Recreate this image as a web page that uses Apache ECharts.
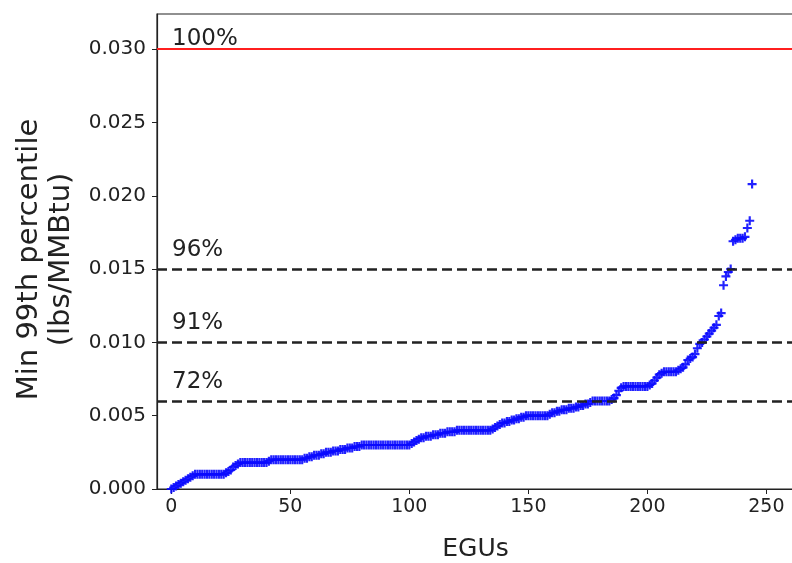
<!DOCTYPE html>
<html>
<head>
<meta charset="utf-8">
<title>Min 99th percentile by EGU</title>
<script src="https://cdn.jsdelivr.net/npm/echarts@6/dist/echarts.min.js"></script>
<style>
  html, body { margin: 0; padding: 0; background: #fff; }
  #chart { width: 792px; height: 563px; }
</style>
</head>
<body>
<div id="chart"></div>
<script>
// Sorted minimum 99th-percentile values per EGU (lbs/MMBtu)
const egu_values = [
  0.0000, 0.0001, 0.0002, 0.0003, 0.0004, 0.0005, 0.0006, 0.0007, 0.0008, 0.0009,
  0.0010, 0.0010, 0.0010, 0.0010, 0.0010, 0.0010, 0.0010, 0.0010, 0.0010, 0.0010,
  0.0010, 0.0010, 0.0010, 0.0011, 0.0012, 0.0013, 0.0015, 0.0016, 0.0017, 0.0018,
  0.0018, 0.0018, 0.0018, 0.0018, 0.0018, 0.0018, 0.0018, 0.0018, 0.0018, 0.0018,
  0.0018, 0.0019, 0.0020, 0.0020, 0.0020, 0.0020, 0.0020, 0.0020, 0.0020, 0.0020,
  0.0020, 0.0020, 0.0020, 0.0020, 0.0020, 0.0020, 0.0021, 0.0021, 0.0022, 0.0022,
  0.0023, 0.0023, 0.0023, 0.0024, 0.0024, 0.0025, 0.0025, 0.0025, 0.0026, 0.0026,
  0.0026, 0.0027, 0.0027, 0.0027, 0.0028, 0.0028, 0.0028, 0.0029, 0.0029, 0.0029,
  0.0030, 0.0030, 0.0030, 0.0030, 0.0030, 0.0030, 0.0030, 0.0030, 0.0030, 0.0030,
  0.0030, 0.0030, 0.0030, 0.0030, 0.0030, 0.0030, 0.0030, 0.0030, 0.0030, 0.0030,
  0.0030, 0.0031, 0.0032, 0.0033, 0.0034, 0.0035, 0.0035, 0.0036, 0.0036, 0.0036,
  0.0037, 0.0037, 0.0037, 0.0038, 0.0038, 0.0038, 0.0039, 0.0039, 0.0039, 0.0039,
  0.0040, 0.0040, 0.0040, 0.0040, 0.0040, 0.0040, 0.0040, 0.0040, 0.0040, 0.0040,
  0.0040, 0.0040, 0.0040, 0.0040, 0.0040, 0.0041, 0.0042, 0.0043, 0.0044, 0.0045,
  0.0045, 0.0046, 0.0046, 0.0047, 0.0047, 0.0048, 0.0048, 0.0049, 0.0049, 0.0050,
  0.0050, 0.0050, 0.0050, 0.0050, 0.0050, 0.0050, 0.0050, 0.0050, 0.0050, 0.0051,
  0.0052, 0.0052, 0.0053, 0.0053, 0.0054, 0.0054, 0.0054, 0.0055, 0.0055, 0.0055,
  0.0056, 0.0056, 0.0057, 0.0057, 0.0058, 0.0058, 0.0059, 0.0060, 0.0060, 0.0060,
  0.0060, 0.0060, 0.0060, 0.0060, 0.0060, 0.0061, 0.0062, 0.0064, 0.0067, 0.0069,
  0.0070, 0.0070, 0.0070, 0.0070, 0.0070, 0.0070, 0.0070, 0.0070, 0.0070, 0.0070,
  0.0070, 0.0071, 0.0072, 0.0074, 0.0076, 0.0078, 0.0079, 0.0080, 0.0080, 0.0080,
  0.0080, 0.0080, 0.0080, 0.0081, 0.0082, 0.0083, 0.0085, 0.0088, 0.0089, 0.0090,
  0.0092, 0.0096, 0.0099, 0.0100, 0.0102, 0.0104, 0.0106, 0.0108, 0.0110, 0.0112,
  0.0118, 0.0120, 0.0139, 0.0145, 0.0148, 0.0150, 0.0169, 0.0170, 0.0171, 0.0171,
  0.0171, 0.0172, 0.0178, 0.0183, 0.0208
];

// Reference thresholds and their percentage labels
const threshold_values = [0.030, 0.015, 0.010, 0.006];
const threshold_labels = ['100%', '96%', '91%', '72%'];

// Tick positions
const x_ticks = [0, 50, 100, 150, 200, 250];
const y_ticks = [0.000, 0.005, 0.010, 0.015, 0.020, 0.025, 0.030];

const FONT = 'DejaVu Sans';
const TEXT = '#222';

const points = egu_values.map((v, i) => [i, v]);

// A filled '+' glyph for the scatter markers
const PLUS = 'path://M3.8,0H6.2V3.8H10V6.2H6.2V10H3.8V6.2H0V3.8H3.8Z';

const lineStyles = [
  { color: '#ff1f1f', width: 2.2, type: 'solid' },
  { color: '#222', width: 2.7, type: [10, 5] },
  { color: '#222', width: 2.7, type: [10, 5] },
  { color: '#222', width: 2.7, type: [10, 5] }
];
const labelLift = [-1, 8, 8, 8];

const markData = threshold_values.map((v, i) => ({
  yAxis: v,
  lineStyle: lineStyles[i],
  label: {
    show: true,
    position: 'insideStartTop',
    formatter: threshold_labels[i],
    distance: [15, labelLift[i]],
    color: TEXT,
    fontFamily: FONT,
    fontSize: 23
  }
}));

const chart = echarts.init(document.getElementById('chart'), null, { renderer: 'canvas' });

chart.setOption({
  animation: false,
  backgroundColor: '#fff',
  grid: {
    left: 157, top: 14, right: -2, bottom: 74,
    containLabel: false,
    outerBoundsMode: 'none',
    show: true, borderColor: '#222', borderWidth: 1.2
  },
  xAxis: {
    type: 'value',
    min: -6, max: 261.6,
    name: 'EGUs',
    nameLocation: 'middle',
    nameGap: 48,
    nameTextStyle: { fontFamily: FONT, fontSize: 25, color: TEXT },
    axisLine: { show: true, onZero: false, lineStyle: { color: '#222', width: 1.2 } },
    axisTick: { show: true, length: 5, customValues: x_ticks, lineStyle: { color: '#222' } },
    axisLabel: { customValues: x_ticks, fontFamily: FONT, fontSize: 19, color: TEXT, margin: 9 },
    splitLine: { show: false }
  },
  yAxis: {
    type: 'value',
    min: 0, max: 0.0324,
    name: 'Min 99th percentile\n(lbs/MMBtu)',
    nameLocation: 'middle',
    nameGap: 77,
    nameRotate: 90,
    nameTextStyle: {
      fontFamily: FONT, fontSize: 29, color: TEXT, lineHeight: 32, align: 'center',
      padding: [0, 16, 0, 0]
    },
    axisLine: { show: true, onZero: false, lineStyle: { color: '#222', width: 1.2 } },
    axisTick: { show: true, length: 5, customValues: y_ticks, lineStyle: { color: '#222' } },
    axisLabel: {
      customValues: y_ticks, fontFamily: FONT, fontSize: 20, color: TEXT, margin: 11,
      formatter: v => v.toFixed(3)
    },
    splitLine: { show: false }
  },
  series: [{
    type: 'scatter',
    data: points,
    symbol: PLUS,
    symbolSize: 9,
    itemStyle: { color: '#0a0aff', opacity: 0.9 },
    markLine: {
      silent: true,
      precision: 4,
      symbol: ['none', 'none'],
      data: markData
    }
  }]
});
</script>
</body>
</html>
